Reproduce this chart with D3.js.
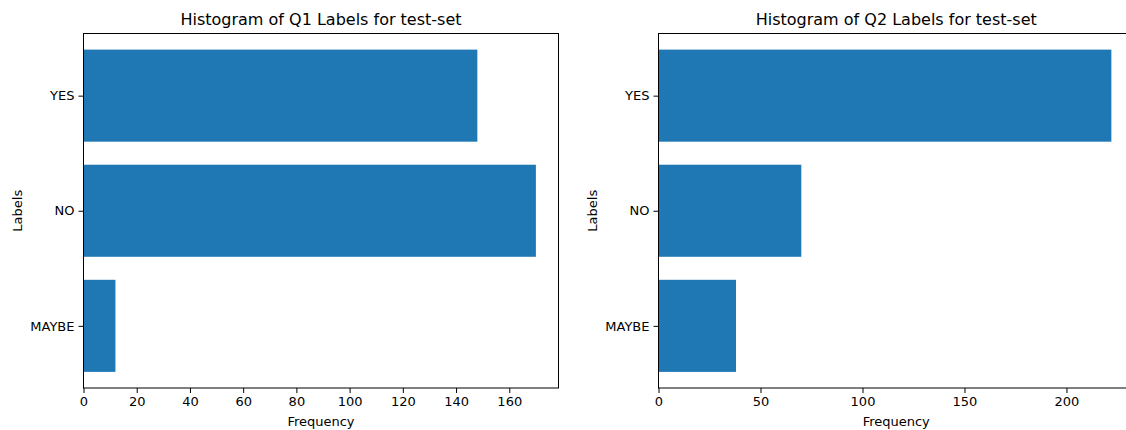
<!DOCTYPE html>
<html><head><meta charset="utf-8">
<script src="https://cdn.jsdelivr.net/npm/d3@7"></script>
<style>body{margin:0;background:#fff}svg{display:block}text{font-family:"DejaVu Sans",sans-serif;fill:#000}</style>
</head><body><svg id="c" width="1126" height="430"></svg>
<script>
const categories = ["MAYBE", "NO", "YES"];
const q1Values = [12, 170, 148];
const q2Values = [38, 70, 222];
const q1Ticks = [0, 20, 40, 60, 80, 100, 120, 140, 160];
const q2Ticks = [0, 50, 100, 150, 200];
const titles = ["Histogram of Q1 Labels for test-set", "Histogram of Q2 Labels for test-set"];

const svg = d3.select("#c");
const panels = [
  {vals: q1Values, ticks: q1Ticks, title: titles[0], x0: 83.5, x1: 558.5},
  {vals: q2Values, ticks: q2Ticks, title: titles[1], x0: 658.5, x1: 1134}
];
const yTop = 33.5, yBot = 388;
const color = "#1f77b4";

panels.forEach(p => {
  const maxV = d3.max(p.vals);
  const x = d3.scaleLinear().domain([0, maxV * 1.05]).range([p.x0, p.x1]);
  const y = d3.scaleLinear().domain([-0.54, 2.54]).range([yBot, yTop]);
  const g = svg.append("g");
  g.selectAll("rect.bar").data(p.vals).enter().append("rect")
    .attr("x", x(0)).attr("y", (d, i) => y(i + 0.4))
    .attr("width", d => x(d) - x(0)).attr("height", y(-0.4) - y(0.4))
    .attr("fill", color);
  // frame
  g.append("rect").attr("x", p.x0).attr("y", yTop).attr("width", p.x1 - p.x0).attr("height", yBot - yTop)
    .attr("fill", "none").attr("stroke", "#000").attr("stroke-width", 1);
  const xa = d3.axisBottom(x).tickValues(p.ticks).tickSize(5).tickPadding(4).tickFormat(d3.format("d"));
  const gx = g.append("g").attr("transform", `translate(0,${yBot})`).call(xa);
  gx.select(".domain").remove();
  gx.selectAll("text").style("font-size", "13px").attr("fill", "#000");
  const ya = d3.axisLeft(y).tickValues([0, 1, 2]).tickSize(5).tickPadding(4).tickFormat(i => categories[i]);
  const gy = g.append("g").attr("transform", `translate(${p.x0},0)`).call(ya);
  gy.select(".domain").remove();
  gy.selectAll("text").style("font-size", "13px").attr("fill", "#000");
  g.append("text").attr("x", (p.x0 + p.x1) / 2).attr("y", 25).attr("text-anchor", "middle")
    .style("font-size", "16px").text(p.title);
  g.append("text").attr("x", (p.x0 + p.x1) / 2).attr("y", 426).attr("text-anchor", "middle")
    .style("font-size", "13px").text("Frequency");
  g.append("text").attr("transform", `translate(${p.x0 - 62},${(yTop + yBot) / 2}) rotate(-90)`)
    .attr("text-anchor", "middle").style("font-size", "13px").text("Labels");
});
</script></body></html>
